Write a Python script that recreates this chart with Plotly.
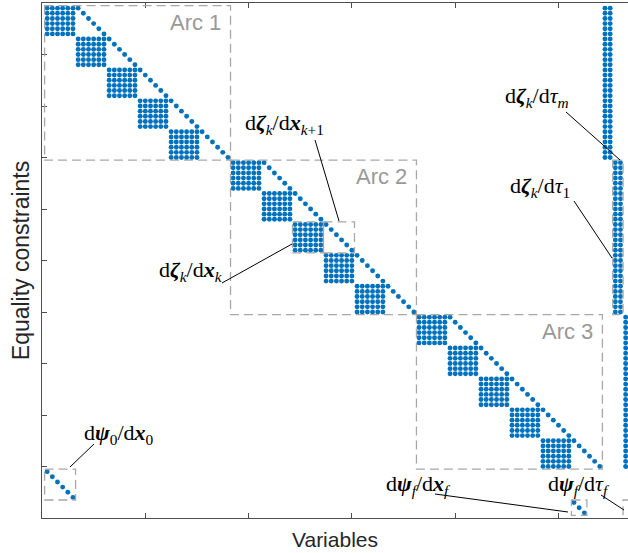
import plotly.graph_objects as go

# ---------------- structure of the Jacobian (1-based indices, as in MATLAB spy) --------------
n_states = 6                       # state dimension (dense block size)
segments_per_arc = [5, 5, 5]       # defect blocks per arc
arc_labels = ["Arc 1", "Arc 2", "Arc 3"]
tau_columns = [[109, 110], [111, 112], [113]]   # columns of the time parameters used by each arc
psi0_rows = [91, 92, 93, 94, 95, 96]            # initial boundary constraints
psi0_cols = [1, 2, 3, 4, 5, 6]
psif_rows = [97, 98, 99]                        # final boundary constraints
psif_cols = [103, 104, 105]
x_ticks = [0, 20, 40, 60, 80, 100, 120]
y_ticks = [0, 10, 20, 30, 40, 50, 60, 70, 80, 90, 100]

rows, cols = [], []
arc_boxes = []
r_off, c_off = 0, 0
for a, nseg in enumerate(segments_per_arc):
    for k in range(nseg):
        r0 = r_off + k * n_states
        c0 = c_off + k * n_states
        for i in range(1, n_states + 1):
            for j in range(1, n_states + 1):          # d zeta_k / d x_k
                rows.append(r0 + i); cols.append(c0 + j)
            rows.append(r0 + i); cols.append(c0 + n_states + i)   # d zeta_k / d x_{k+1}
            for tc in tau_columns[a]:                  # d zeta_k / d tau
                rows.append(r0 + i); cols.append(tc)
    arc_boxes.append((c_off + 0.5, c_off + (nseg + 1) * n_states + 0.5,
                      r_off + 0.5, r_off + nseg * n_states + 0.5))
    r_off += nseg * n_states
    c_off += (nseg + 1) * n_states
for r, c in zip(psi0_rows, psi0_cols):
    rows.append(r); cols.append(c)
for r, c in zip(psif_rows, psif_cols):
    rows.append(r); cols.append(c)

# ---------------- figure ----------------
W, H = 628, 553
ML, MT, MB = 42, 3, 35
px_per_col = 5.165
x_max = (W - ML) / px_per_col

fig = go.Figure()
fig.add_trace(go.Scatter(
    x=cols, y=rows, mode="markers",
    marker=dict(size=4.9, color="#0072BD", line=dict(width=0)),
    hoverinfo="skip", showlegend=False))

GRAY = "#a8a8a8"
DASH = "9px,5px"

def box(x0, x1, y0, y1):
    fig.add_shape(type="rect", xref="x", yref="y", x0=x0, x1=x1, y0=y0, y1=y1,
                  line=dict(color=GRAY, width=1.3, dash=DASH), layer="above")

for (x0, x1, y0, y1), lab in zip(arc_boxes, arc_labels):
    box(x0, x1, y0, y1)
    fig.add_annotation(x=x1 - 1.5, y=y0 + 3.2, xref="x", yref="y", text=lab,
                       showarrow=False, xanchor="right", yanchor="middle",
                       font=dict(family="Liberation Sans", size=22, color="#999999"))

# detail boxes
box(48.5, 54.5, 42.5, 48.5)          # d zeta_k/d x_k
box(54.5, 60.5, 42.5, 48.5)          # d zeta_k/d x_{k+1}
box(110.5, 112.5, 30.5, 60.5)        # d zeta_k/d tau (arc 2)
box(0.5, 6.5, 90.5, 96.5)            # d psi_0/d x_0
box(102.5, 105.5, 96.5, 99.5)        # d psi_f/d x_f
box(112.5, 113.7, 96.5, 99.5)        # d psi_f/d tau

def px2x(p):
    return (p - ML) / px_per_col

def py2y(p):
    return (p - MT) / ((H - MT - MB) / 100.0)

SERIF = "Liberation Serif"
labels = [
    ("d<b><i>ζ</i></b><sub><i>k</i></sub>/d<b><i>x</i></b><sub><i>k</i>+1</sub>", 243, 124, "left",
     (315, 140), (339, 221)),
    ("d<b><i>ζ</i></b><sub><i>k</i></sub>/d<b><i>x</i></b><sub><i>k</i></sub>", 225, 271, "right",
     (222, 283), (292, 244)),
    ("d<b><i>ζ</i></b><sub><i>k</i></sub>/d<i>τ</i><sub><i>m</i></sub>", 503, 97, "left",
     (566, 112), (620, 160)),
    ("d<b><i>ζ</i></b><sub><i>k</i></sub>/d<i>τ</i><sub>1</sub>", 508, 187, "left",
     (574, 201), (612, 258)),
    ("d<b><i>ψ</i></b><sub>0</sub>/d<b><i>x</i></b><sub>0</sub>", 82, 434, "left",
     (94, 444), (70, 467)),
    ("d<b><i>ψ</i></b><sub><i>f</i></sub>/d<b><i>x</i></b><sub><i>f</i></sub>", 453, 485, "right",
     (435, 494), (568, 512)),
    ("d<b><i>ψ</i></b><sub><i>f</i></sub>/d<i>τ</i><sub><i>f</i></sub>", 546, 485, "left",
     (601, 495), (624, 510)),
]
for text, tx, ty, anchor, (lx0, ly0), (lx1, ly1) in labels:
    fig.add_annotation(x=px2x(tx), y=py2y(ty), xref="x", yref="y", text=text,
                       showarrow=False, xanchor=anchor, yanchor="middle",
                       font=dict(family=SERIF, size=22, color="black"))
    fig.add_shape(type="line", xref="x", yref="y",
                  x0=px2x(lx0), y0=py2y(ly0), x1=px2x(lx1), y1=py2y(ly1),
                  line=dict(color="black", width=1), layer="above")

AX = "#4d4d4d"
fig.update_xaxes(range=[0, x_max], tickvals=x_ticks, showticklabels=False,
                 ticks="inside", ticklen=5, tickcolor=AX, tickwidth=1,
                 showline=True, linecolor=AX, linewidth=1, mirror="ticks",
                 showgrid=False, zeroline=False, automargin=False,
                 title=dict(text="Variables", standoff=14,
                            font=dict(family="Liberation Sans", size=21, color="#262626")))
fig.update_yaxes(range=[100, 0], tickvals=y_ticks, showticklabels=False,
                 ticks="inside", ticklen=5, tickcolor=AX, tickwidth=1,
                 showline=True, linecolor=AX, linewidth=1, mirror=False,
                 showgrid=False, zeroline=False, automargin=False,
                 title=dict(text="Equality constraints", standoff=4,
                            font=dict(family="Liberation Sans", size=23, color="#262626")))
fig.update_layout(width=W, height=H, autosize=False,
                  margin=dict(l=ML, r=0, t=MT, b=MB, pad=0),
                  plot_bgcolor="white", paper_bgcolor="white", showlegend=False)

fig.write_html("out.html", config={"displayModeBar": False},
               post_script="document.body.style.margin='0px';document.body.style.overflow='hidden';")
